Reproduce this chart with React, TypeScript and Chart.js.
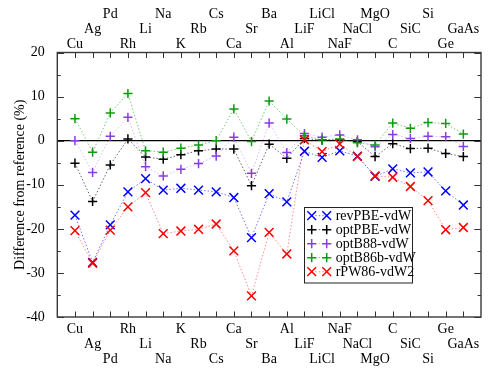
import React, { useEffect, useRef } from 'react';
import { Chart, registerables } from 'chart.js';

Chart.register(...registerables);

const categories = ['Cu', 'Ag', 'Pd', 'Rh', 'Li', 'Na', 'K', 'Rb', 'Cs', 'Ca', 'Sr', 'Ba', 'Al', 'LiF', 'LiCl', 'NaF', 'NaCl', 'MgO', 'C', 'SiC', 'Si', 'Ge', 'GaAs'];

const revPBE = [-16.9, -27.6, -19.1, -11.6, -8.6, -11.2, -10.8, -11.2, -11.6, -12.9, -22.0, -12.0, -13.9, -2.4, -3.8, -2.3, -3.5, -8.1, -6.4, -7.3, -7.1, -11.4, -14.6];
const optPBE = [-5.1, -13.8, -5.5, 0.4, -3.7, -4.2, -3.2, -2.3, -1.9, -1.9, -10.2, -0.8, -4.0, 0.5, 0.1, 0.2, -0.2, -3.6, -0.7, -1.8, -1.7, -2.9, -3.6];
const optB88 = [0.0, -7.2, 1.0, 5.3, -5.9, -8.0, -6.5, -5.2, -3.5, 0.8, -7.4, 4.0, -2.7, 1.6, 0.8, 1.3, 0.2, -1.4, 1.4, 0.5, 1.0, 0.9, -1.3];
const optB86b = [5.0, -2.6, 6.3, 10.7, -2.3, -2.6, -1.7, -1.0, 0.0, 7.2, -0.2, 9.0, 4.9, 1.1, 0.2, 0.4, -0.5, -1.0, 4.0, 2.8, 4.1, 3.9, 1.5];
const rPW86 = [-20.4, -27.8, -20.3, -15.0, -11.8, -21.1, -20.5, -20.1, -18.9, -25.0, -35.2, -20.8, -25.7, 0.2, -2.5, -0.8, -3.6, -8.0, -8.3, -10.4, -13.6, -20.2, -19.7];

const yTickValues = [20, 10, 0, -10, -20, -30, -40];
const yMinorValues = [15, 5, -5, -15, -25, -35];

const seriesNames = ['revPBE-vdW', 'optPBE-vdW', 'optB88-vdW', 'optB86b-vdW', 'rPW86-vdW2'];
const seriesValues = [revPBE, optPBE, optB88, optB86b, rPW86];
const seriesColors = ['#0000ff', '#000000', '#8a3ee0', '#109a10', '#ff0000'];
const seriesLineColors = ['rgba(0,0,255,0.55)', 'rgba(0,0,0,0.6)', 'rgba(138,62,224,0.35)', 'rgba(16,154,16,0.55)', 'rgba(255,0,0,0.45)'];
const seriesMarkers = ['crossRot', 'cross', 'cross', 'cross', 'crossRot'];

const FONT = "'Liberation Serif', 'Times New Roman', serif";

function markerRadius(style: string) {
  return style === 'crossRot' ? 6.2 : 4.6;
}

const framePlugin = {
  id: 'framePlugin',
  beforeDatasetsDraw(chart: any) {
    const { ctx, chartArea } = chart;
    const y = chart.scales.y;
    const y0 = y.getPixelForValue(0);
    ctx.save();
    ctx.strokeStyle = '#000';
    ctx.lineWidth = 1.3;
    ctx.beginPath();
    ctx.moveTo(chartArea.left, y0);
    ctx.lineTo(chartArea.right, y0);
    ctx.stroke();
    ctx.restore();
  },
  afterDraw(chart: any) {
    const { ctx, chartArea } = chart;
    const xs = chart.scales.x;
    const ys = chart.scales.y;
    const { left, right, top, bottom } = chartArea;
    ctx.save();
    ctx.strokeStyle = '#3a3a3a';
    ctx.lineWidth = 1.4;
    ctx.strokeRect(left, top, right - left, bottom - top);
    ctx.lineWidth = 1;
    ctx.strokeStyle = '#333';
    ctx.beginPath();
    categories.forEach((_, i) => {
      const px = Math.round(xs.getPixelForValue(i + 1)) + 0.5;
      ctx.moveTo(px, bottom);
      ctx.lineTo(px, bottom - 5.5);
      ctx.moveTo(px, top);
      ctx.lineTo(px, top + 5.5);
    });
    yTickValues.forEach((v) => {
      const py = Math.round(ys.getPixelForValue(v)) + 0.5;
      ctx.moveTo(left, py);
      ctx.lineTo(left + 6.7, py);
      ctx.moveTo(right, py);
      ctx.lineTo(right - 6.7, py);
    });
    yMinorValues.forEach((v) => {
      const py = Math.round(ys.getPixelForValue(v)) + 0.5;
      ctx.moveTo(left, py);
      ctx.lineTo(left + 3.4, py);
      ctx.moveTo(right, py);
      ctx.lineTo(right - 3.4, py);
    });
    ctx.stroke();

    // legend
    const bx = 304.5, by = 207.5, bw = 108, bh = 75.5;
    ctx.fillStyle = '#fff';
    ctx.fillRect(bx, by, bw, bh);
    ctx.strokeStyle = '#222';
    ctx.lineWidth = 1;
    ctx.strokeRect(bx, by, bw, bh);
    ctx.font = `14px ${FONT}`;
    ctx.textBaseline = 'middle';
    ctx.textAlign = 'left';
    seriesNames.forEach((name, i) => {
      const cy = 215.7 + i * 14;
      const x1 = 311.7, x2 = 326.7;
      ctx.strokeStyle = seriesLineColors[i];
      ctx.setLineDash([1.5, 2]);
      ctx.lineWidth = 1;
      ctx.beginPath();
      ctx.moveTo(x1, cy);
      ctx.lineTo(x2, cy);
      ctx.stroke();
      ctx.setLineDash([]);
      ctx.strokeStyle = seriesColors[i];
      ctx.lineWidth = 1.5;
      const st = seriesMarkers[i];
      [x1, x2].forEach((mx) => {
        ctx.beginPath();
        if (st === 'crossRot') {
          const d = markerRadius(st) * Math.SQRT1_2;
          ctx.moveTo(mx - d, cy - d); ctx.lineTo(mx + d, cy + d);
          ctx.moveTo(mx - d, cy + d); ctx.lineTo(mx + d, cy - d);
        } else {
          const d = markerRadius(st);
          ctx.moveTo(mx - d, cy); ctx.lineTo(mx + d, cy);
          ctx.moveTo(mx, cy - d); ctx.lineTo(mx, cy + d);
        }
        ctx.stroke();
      });
      ctx.fillStyle = '#000';
      ctx.fillText(name, 335.7, cy + 0.5);
    });
    ctx.restore();
  },
};

export default function App() {
  const ref = useRef<HTMLCanvasElement | null>(null);

  useEffect(() => {
    const canvas = ref.current;
    if (!canvas) return;
    const datasets = seriesNames.map((name, i) => ({
      label: name,
      data: seriesValues[i].map((v, k) => ({ x: k + 1, y: v })),
      borderColor: seriesLineColors[i],
      borderWidth: 1,
      borderDash: [1.5, 2],
      pointStyle: seriesMarkers[i],
      pointRadius: markerRadius(seriesMarkers[i]),
      pointBorderColor: seriesColors[i],
      pointBackgroundColor: seriesColors[i],
      pointBorderWidth: 1.5,
      pointHoverRadius: markerRadius(seriesMarkers[i]),
      fill: false,
      tension: 0,
      order: seriesNames.length - i,
    }));

    const labelFont = { family: FONT, size: 14, lineHeight: 15 / 14 };

    const chart = new Chart(canvas, {
      type: 'line',
      data: { datasets },
      plugins: [framePlugin],
      options: {
        responsive: false,
        animation: false,
        devicePixelRatio: 1,
        layout: { padding: { left: 0, right: 10, top: 0, bottom: 0 } },
        plugins: { legend: { display: false }, tooltip: { enabled: false } },
        scales: {
          x: {
            type: 'linear',
            position: 'bottom',
            min: 0,
            max: 24,
            grid: { display: false },
            border: { display: false },
            afterBuildTicks: (s: any) => {
              s.ticks = categories.map((_, i) => ({ value: i + 1 }));
            },
            afterFit: (s: any) => { s.height = 62; },
            ticks: {
              autoSkip: false,
              maxRotation: 0,
              minRotation: 0,
              padding: -3,
              color: '#000',
              font: labelFont,
              callback: (v: any) => {
                const i = Math.round(Number(v)) - 1;
                const name = categories[i] ?? '';
                const row = i % 3;
                if (row === 0) return name;
                if (row === 1) return ['', name];
                return ['', '', name];
              },
            },
          },
          x2: {
            type: 'linear',
            axis: 'x',
            position: 'top',
            min: 0,
            max: 24,
            grid: { display: false },
            border: { display: false },
            afterBuildTicks: (s: any) => {
              s.ticks = categories.map((_, i) => ({ value: i + 1 }));
            },
            afterFit: (s: any) => { s.height = 52.5; },
            ticks: {
              autoSkip: false,
              maxRotation: 0,
              minRotation: 0,
              padding: -7,
              color: '#000',
              font: labelFont,
              callback: (v: any) => {
                const i = Math.round(Number(v)) - 1;
                const name = categories[i] ?? '';
                const row = i % 3;
                if (row === 0) return name;
                if (row === 1) return [name, ''];
                return [name, '', ''];
              },
            },
          },
          y: {
            type: 'linear',
            position: 'left',
            min: -40,
            max: 20,
            grid: { display: false },
            border: { display: false },
            afterBuildTicks: (s: any) => {
              s.ticks = yTickValues.map((v) => ({ value: v }));
            },
            afterFit: (s: any) => { s.width = 57.3; },
            ticks: {
              padding: 4.5,
              color: '#000',
              font: { family: FONT, size: 14 },
            },
            title: {
              display: true,
              text: 'Difference from reference (%)',
              color: '#000',
              font: { family: FONT, size: 14, lineHeight: 1.2 },
              padding: { top: 12, bottom: 0 },
            },
          },
        },
      },
    } as any);
    return () => chart.destroy();
  }, []);

  return (
    <div style={{ position: 'absolute', left: 0, top: 0, width: 491, height: 379, background: '#fff' }}>
      <canvas ref={ref} width={491} height={379} />
    </div>
  );
}
